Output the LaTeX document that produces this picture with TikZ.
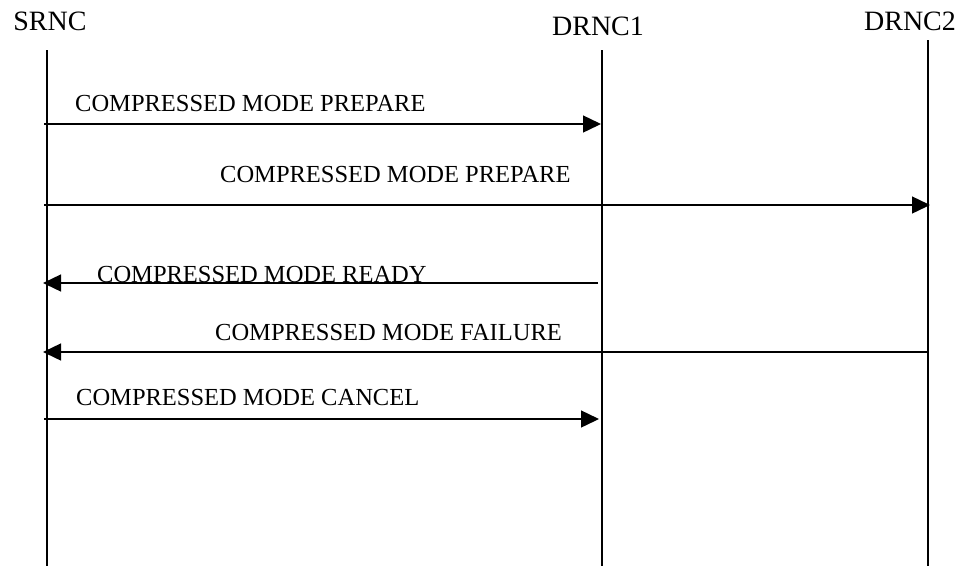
\documentclass[tikz,border=0pt]{standalone}
\usepackage{fontspec}
\setmainfont{Liberation Serif}
\usetikzlibrary{arrows.meta}
\begin{document}
\begin{tikzpicture}[x=1pt,y=-1pt,
  head/.style={inner sep=0pt,anchor=base,font=\fontsize{28}{32}\selectfont},
  lbl/.style={inner sep=0pt,anchor=base west,font=\fontsize{24.5}{28}\selectfont},
  life/.style={line width=1.4pt},
  msg/.style={line width=1.4pt,-{Triangle[length=18pt,width=17pt]}}]
\useasboundingbox (0,0) rectangle (964,566);
% heads
\node[head] (srnc) at (50,30) {SRNC};
\node[head] (drnc1) at (598,35) {DRNC1};
\node[head] (drnc2) at (910,30) {DRNC2};
% lifelines
\coordinate (sT) at (47,50);  \coordinate (sB) at (47,566);
\coordinate (dT) at (602,50); \coordinate (dB) at (602,566);
\coordinate (eT) at (928,40); \coordinate (eB) at (928,566);
\draw[life] (sT) -- (sB);
\draw[life] (dT) -- (dB);
\draw[life] (eT) -- (eB);
% message end points
\coordinate (m1a) at (44,124);  \coordinate (m1b) at (601,124);
\coordinate (m2a) at (44,205);  \coordinate (m2b) at (930,205);
\coordinate (m3a) at (598,283); \coordinate (m3b) at (43,283);
\coordinate (m4a) at (928,352); \coordinate (m4b) at (43,352);
\coordinate (m5a) at (44,419);  \coordinate (m5b) at (599,419);
\draw[msg] (m1a) -- (m1b);
\draw[msg] (m2a) -- (m2b);
\draw[msg] (m3a) -- (m3b);
\draw[msg] (m4a) -- (m4b);
\draw[msg] (m5a) -- (m5b);
% labels
\node[lbl] (l1) at (75,111) {COMPRESSED MODE PREPARE};
\node[lbl] (l2) at (220,182) {COMPRESSED MODE PREPARE};
\node[lbl] (l3) at (97,282) {COMPRESSED MODE READY};
\node[lbl] (l4) at (215,340) {COMPRESSED MODE FAILURE};
\node[lbl] (l5) at (76,405) {COMPRESSED MODE CANCEL};
\end{tikzpicture}
\end{document}
